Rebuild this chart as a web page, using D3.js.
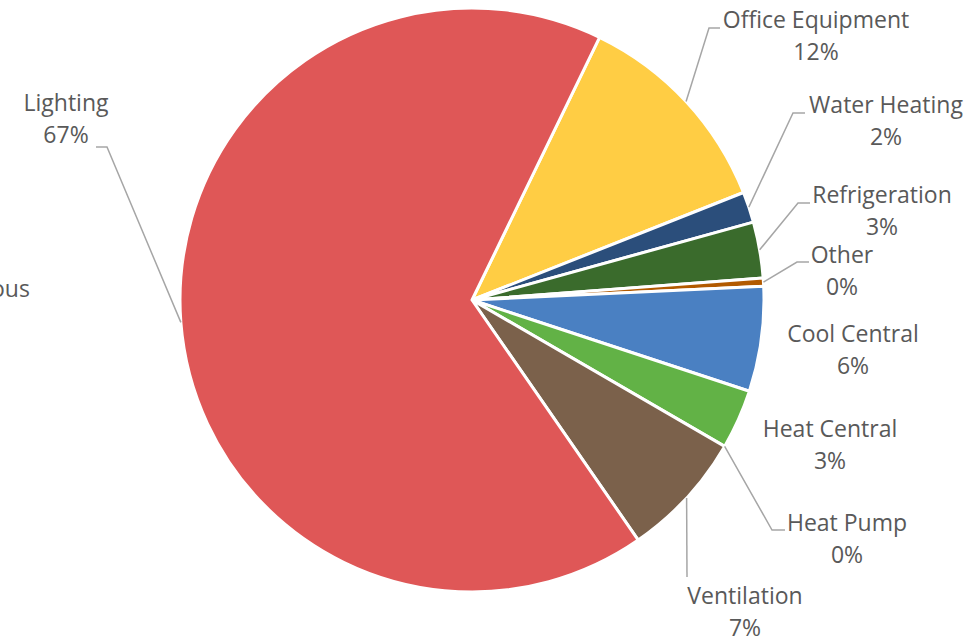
<!DOCTYPE html>
<html lang="en">
<head>
  <meta charset="UTF-8">
  <title>Energy use</title>
  <style>
    body { margin: 0; background: #fff; }
    .label text {
      font: 23px "Open Sans", sans-serif;
      fill: #595959;
      text-anchor: middle;
    }
    .leader {
      fill: none;
      stroke: #a6a6a6;
      stroke-width: 1.5;
    }
  </style>
</head>
<body>
  <svg width="965" height="640"></svg>
  <script src="https://cdn.jsdelivr.net/npm/d3@7"></script>
  <script>
    // data (percent of total)
    var categories = ['Office Equipment', 'Water Heating', 'Refrigeration', 'Other', 'Cool Central',
      'Heat Central', 'Heat Pump', 'Ventilation', 'Lighting', 'Miscellaneous']
    var values = [11.8, 1.7, 3.1, 0.45, 5.8, 3.3, 0, 7.0, 66.8, 0]
    var colors = ['#ffcd44', '#2b4e7b', '#3a6b2c', '#b25a00', '#4a80c2',
      '#62b246', '#a5a5a5', '#7b614b', '#df5757', '#888888']

    // where each label sits (centre x, first baseline) and the elbow of its leader
    var labelLayout = {
      'Office Equipment': { x: 816, y: 28, elbow: [709, 28], end: 720 },
      'Water Heating': { x: 886, y: 113, elbow: [793, 113], end: 805 },
      'Refrigeration': { x: 882, y: 203, elbow: [798, 203], end: 810 },
      'Other': { x: 842, y: 263, elbow: [797, 262], end: 809 },
      'Cool Central': { x: 853, y: 342 },
      'Heat Central': { x: 830, y: 437 },
      'Heat Pump': { x: 847, y: 531, elbow: [772, 530], end: 785 },
      'Ventilation': { x: 745, y: 604, elbow: [687, 577], end: 687 },
      'Lighting': { x: 66, y: 111, elbow: [107, 147], end: 96 },
      'Miscellaneous': { x: -46, y: 297 }
    }

    var svg = d3.select('svg')
    var cx = 472, cy = 300, radius = 292

    var g = svg.append('g')
      .attr('transform', 'translate(' + cx + ',' + cy + ')')

    var data = categories.map(function(c, i) {
      return { name: c, value: values[i], color: colors[i] }
    })
    var total = d3.sum(values)

    var start = 25.9 * Math.PI / 180
    var pie = d3.pie()
      .sort(null)
      .value(function(d) { return d.value })
      .startAngle(start)
      .endAngle(start + 2 * Math.PI)

    var arc = d3.arc()
      .innerRadius(0)
      .outerRadius(radius)

    var arcs = pie(data)

    g.selectAll('.slice')
      .data(arcs.filter(function(d) { return d.data.value > 0 }))
      .enter()
      .append('path')
      .attr('class', 'slice')
      .attr('d', arc)
      .attr('fill', function(d) { return d.data.color })
      .attr('stroke', '#fff')
      .attr('stroke-width', 3)
      .attr('stroke-linejoin', 'round')

    // leader lines from slice edge to label
    arcs.forEach(function(d) {
      var lay = labelLayout[d.data.name]
      if (!lay || !lay.elbow) return
      var mid = (d.startAngle + d.endAngle) / 2
      var p0 = [cx + radius * Math.sin(mid), cy - radius * Math.cos(mid)]
      var pts = [p0, lay.elbow, [lay.end, lay.elbow[1]]]
      svg.append('path')
        .attr('class', 'leader')
        .attr('d', d3.line()(pts))
    })

    var labels = svg.selectAll('.label')
      .data(arcs)
      .enter()
      .append('g')
      .attr('class', 'label')

    labels.append('text')
      .attr('x', function(d) { return labelLayout[d.data.name].x })
      .attr('y', function(d) { return labelLayout[d.data.name].y })
      .text(function(d) { return d.data.name })

    labels.append('text')
      .attr('x', function(d) { return labelLayout[d.data.name].x })
      .attr('y', function(d) { return labelLayout[d.data.name].y + 32 })
      .text(function(d) { return Math.round(d.data.value / total * 100) + '%' })
  </script>
</body>
</html>
